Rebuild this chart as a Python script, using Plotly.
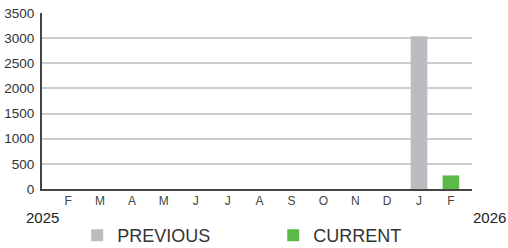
import plotly.graph_objects as go

months = ["F", "M", "A", "M", "J", "J", "A", "S", "O", "N", "D", "J", "F"]
previous = [None, None, None, None, None, None, None, None, None, None, None, 3040, None]
current = [None, None, None, None, None, None, None, None, None, None, None, None, 270]
y_ticks = [0, 500, 1000, 1500, 2000, 2500, 3000, 3500]
years = ["2025", "2026"]

x = list(range(len(months)))
font = "Liberation Sans, Arial, sans-serif"

fig = go.Figure()
fig.add_trace(go.Bar(x=x, y=previous, name="PREVIOUS", marker_color="#bbbcc0",
                     width=0.52, marker_line_width=0))
fig.add_trace(go.Bar(x=x, y=current, name="CURRENT", marker_color="#5bb947",
                     width=0.52, marker_line_width=0))

fig.update_layout(
    width=508, height=248,
    margin=dict(l=42, r=36, t=13, b=59, autoexpand=False),
    barmode="overlay",
    plot_bgcolor="white", paper_bgcolor="white",
    font=dict(family=font, color="#333333"),
    showlegend=True,
    legend=dict(orientation="h", xref="container", yref="container",
                x=0.152, y=0.05, xanchor="left", yanchor="middle",
                font=dict(size=18, color="#333333"), entrywidth=151,
                entrywidthmode="pixels", bgcolor="rgba(0,0,0,0)"),
)
fig.update_xaxes(
    range=[-0.82, 12.66], tickmode="array", tickvals=x, ticktext=months,
    showgrid=False, showline=True, linecolor="#444444", linewidth=2,
    ticks="", tickfont=dict(size=12, color="#444444"), zeroline=False,
    automargin=False,
)
fig.update_yaxes(
    range=[0, 3500], tickmode="array", tickvals=y_ticks,
    showgrid=True, gridcolor="#cccccc", gridwidth=1.5,
    showline=True, linecolor="#444444", linewidth=2,
    ticks="", ticklabelstandoff=3, tickfont=dict(size=13.5, color="#333333"), zeroline=False,
    automargin=False,
)
fig.add_annotation(text=years[0], xref="paper", yref="paper", x=0, y=-0.105,
                   xanchor="center", yanchor="top", showarrow=False,
                   font=dict(size=15, color="#222222"))
fig.add_annotation(text=years[1], xref="paper", yref="paper", x=0.998, y=-0.105,
                   xanchor="left", yanchor="top", showarrow=False,
                   font=dict(size=15, color="#222222"))

fig.write_html("out.html", config={"displayModeBar": False},
               post_script="document.body.style.margin='0';")
